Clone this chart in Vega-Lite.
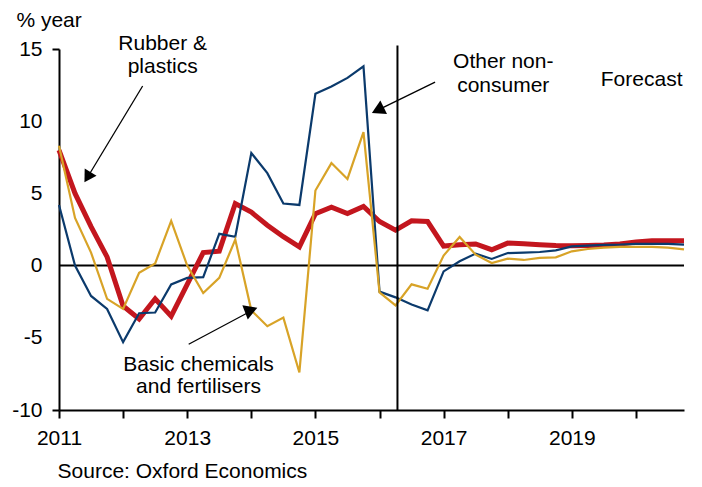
{
  "$schema": "https://vega.github.io/schema/vega-lite/v6.json",
  "width": 625,
  "height": 361,
  "autosize": {"type": "none"},
  "padding": {"left": 59, "top": 49, "right": 18, "bottom": 77},
  "background": "white",
  "config": {
    "view": {"stroke": null},
    "font": "Liberation Sans",
    "text": {"font": "Liberation Sans", "fontSize": 21, "color": "black"}
  },
  "data": {"values": [{"one": 1}]},
  "datasets": {
    "rubber": [
      {"t": 2011.0, "v": 8.0}, {"t": 2011.25, "v": 5.0}, {"t": 2011.5, "v": 2.7}, {"t": 2011.75, "v": 0.6},
      {"t": 2012.0, "v": -2.8}, {"t": 2012.25, "v": -3.7}, {"t": 2012.5, "v": -2.3}, {"t": 2012.75, "v": -3.5},
      {"t": 2013.0, "v": -1.3}, {"t": 2013.25, "v": 0.9}, {"t": 2013.5, "v": 1.0}, {"t": 2013.75, "v": 4.3},
      {"t": 2014.0, "v": 3.7}, {"t": 2014.25, "v": 2.8}, {"t": 2014.5, "v": 2.0}, {"t": 2014.75, "v": 1.3},
      {"t": 2015.0, "v": 3.6}, {"t": 2015.25, "v": 4.05}, {"t": 2015.5, "v": 3.6}, {"t": 2015.75, "v": 4.1},
      {"t": 2016.0, "v": 3.05}, {"t": 2016.25, "v": 2.45}, {"t": 2016.5, "v": 3.1}, {"t": 2016.75, "v": 3.05},
      {"t": 2017.0, "v": 1.35}, {"t": 2017.25, "v": 1.45}, {"t": 2017.5, "v": 1.5}, {"t": 2017.75, "v": 1.1},
      {"t": 2018.0, "v": 1.56}, {"t": 2018.25, "v": 1.52}, {"t": 2018.5, "v": 1.45}, {"t": 2018.75, "v": 1.4},
      {"t": 2019.0, "v": 1.38}, {"t": 2019.25, "v": 1.4}, {"t": 2019.5, "v": 1.42}, {"t": 2019.75, "v": 1.5},
      {"t": 2020.0, "v": 1.63}, {"t": 2020.25, "v": 1.72}, {"t": 2020.5, "v": 1.72}, {"t": 2020.75, "v": 1.72}
    ],
    "other": [
      {"t": 2011.0, "v": 4.2}, {"t": 2011.25, "v": 0.0}, {"t": 2011.5, "v": -2.1}, {"t": 2011.75, "v": -3.0},
      {"t": 2012.0, "v": -5.3}, {"t": 2012.25, "v": -3.3}, {"t": 2012.5, "v": -3.25}, {"t": 2012.75, "v": -1.3},
      {"t": 2013.0, "v": -0.85}, {"t": 2013.25, "v": -0.8}, {"t": 2013.5, "v": 2.2}, {"t": 2013.75, "v": 2.0},
      {"t": 2014.0, "v": 7.8}, {"t": 2014.25, "v": 6.4}, {"t": 2014.5, "v": 4.3}, {"t": 2014.75, "v": 4.2},
      {"t": 2015.0, "v": 11.9}, {"t": 2015.25, "v": 12.4}, {"t": 2015.5, "v": 13.0}, {"t": 2015.75, "v": 13.8},
      {"t": 2016.0, "v": -1.8}, {"t": 2016.25, "v": -2.2}, {"t": 2016.5, "v": -2.7}, {"t": 2016.75, "v": -3.1},
      {"t": 2017.0, "v": -0.4}, {"t": 2017.25, "v": 0.3}, {"t": 2017.5, "v": 0.83}, {"t": 2017.75, "v": 0.46},
      {"t": 2018.0, "v": 0.87}, {"t": 2018.25, "v": 0.9}, {"t": 2018.5, "v": 0.94}, {"t": 2018.75, "v": 1.06},
      {"t": 2019.0, "v": 1.33}, {"t": 2019.25, "v": 1.38}, {"t": 2019.5, "v": 1.43}, {"t": 2019.75, "v": 1.45},
      {"t": 2020.0, "v": 1.5}, {"t": 2020.25, "v": 1.5}, {"t": 2020.5, "v": 1.5}, {"t": 2020.75, "v": 1.45}
    ],
    "basic": [
      {"t": 2011.0, "v": 8.3}, {"t": 2011.25, "v": 3.3}, {"t": 2011.5, "v": 0.9}, {"t": 2011.75, "v": -2.3},
      {"t": 2012.0, "v": -3.0}, {"t": 2012.25, "v": -0.5}, {"t": 2012.5, "v": 0.15}, {"t": 2012.75, "v": 3.1},
      {"t": 2013.0, "v": 0.0}, {"t": 2013.25, "v": -1.9}, {"t": 2013.5, "v": -0.85}, {"t": 2013.75, "v": 1.8},
      {"t": 2014.0, "v": -3.1}, {"t": 2014.25, "v": -4.2}, {"t": 2014.5, "v": -3.6}, {"t": 2014.75, "v": -7.4},
      {"t": 2015.0, "v": 5.2}, {"t": 2015.25, "v": 7.1}, {"t": 2015.5, "v": 6.0}, {"t": 2015.75, "v": 9.25},
      {"t": 2016.0, "v": -1.85}, {"t": 2016.25, "v": -2.75}, {"t": 2016.5, "v": -1.3}, {"t": 2016.75, "v": -1.6},
      {"t": 2017.0, "v": 0.7}, {"t": 2017.25, "v": 1.98}, {"t": 2017.5, "v": 0.76}, {"t": 2017.75, "v": 0.18},
      {"t": 2018.0, "v": 0.48}, {"t": 2018.25, "v": 0.39}, {"t": 2018.5, "v": 0.53}, {"t": 2018.75, "v": 0.57},
      {"t": 2019.0, "v": 0.99}, {"t": 2019.25, "v": 1.15}, {"t": 2019.5, "v": 1.25}, {"t": 2019.75, "v": 1.3},
      {"t": 2020.0, "v": 1.3}, {"t": 2020.25, "v": 1.3}, {"t": 2020.5, "v": 1.25}, {"t": 2020.75, "v": 1.13}
    ]
  },
  "layer": [
    {
      "mark": {"type": "rule", "color": "black", "strokeWidth": 2},
      "encoding": {
        "y": {"datum": 0, "type": "quantitative",
          "scale": {"domain": [-10, 15], "nice": false, "zero": false},
          "axis": {
            "values": [-10, -5, 0, 5, 10, 15], "title": null, "grid": false,
            "domainColor": "black", "domainWidth": 2,
            "tickColor": "black", "tickWidth": 2, "tickSize": 7,
            "tickOpacity": {"expr": "datum.value === 15 || datum.value === -10 ? 1 : 0"},
            "labelExpr": "toString(datum.value)",
            "labelFont": "Liberation Sans", "labelFontSize": 21, "labelColor": "black", "labelPadding": 10
          }
        }
      }
    },
    {
      "data": {"name": "rubber"},
      "mark": {"type": "line", "color": "#C3161E", "strokeWidth": 5},
      "encoding": {
        "x": {"field": "t", "type": "quantitative",
          "scale": {"domain": [2011, 2020.75], "nice": false, "zero": false},
          "axis": {
            "values": [2011, 2012, 2013, 2014, 2015, 2016, 2017, 2018, 2019, 2020],
            "format": "d", "labelExpr": "datum.value % 2 == 1 ? datum.label : ''",
            "title": null, "grid": false,
            "domainColor": "black", "domainWidth": 2,
            "tickColor": "black", "tickWidth": 2, "tickSize": 8,
            "labelFont": "Liberation Sans", "labelFontSize": 21, "labelColor": "black", "labelPadding": 9,
            "labelFlush": false, "labelOverlap": false
          }
        },
        "y": {"field": "v", "type": "quantitative"}
      }
    },
    {
      "data": {"name": "other"},
      "mark": {"type": "line", "color": "#0B3A6C", "strokeWidth": 2.2},
      "encoding": {
        "x": {"field": "t", "type": "quantitative"},
        "y": {"field": "v", "type": "quantitative"}
      }
    },
    {
      "data": {"name": "basic"},
      "mark": {"type": "line", "color": "#D8A327", "strokeWidth": 2.2},
      "encoding": {
        "x": {"field": "t", "type": "quantitative"},
        "y": {"field": "v", "type": "quantitative"}
      }
    },
    {
      "mark": {"type": "rule", "color": "black", "strokeWidth": 2},
      "encoding": {
        "x": {"datum": 2016.28, "type": "quantitative"},
        "y": {"datum": 15.25, "type": "quantitative"},
        "y2": {"datum": -10}
      }
    },
    {
      "mark": {"type": "rule", "color": "black", "strokeWidth": 1.3},
      "encoding": {
        "x": {"datum": 2012.305, "type": "quantitative"},
        "y": {"datum": 12.44, "type": "quantitative"},
        "x2": {"datum": 2011.445},
        "y2": {"datum": 6.12}
      }
    },
    {
      "mark": {"type": "point", "shape": "triangle-up", "filled": true, "color": "black", "opacity": 1, "size": 190, "angle": 211},
      "encoding": {
        "x": {"datum": 2011.445, "type": "quantitative"},
        "y": {"datum": 6.12, "type": "quantitative"}
      }
    },
    {
      "mark": {"type": "rule", "color": "black", "strokeWidth": 1.3},
      "encoding": {
        "x": {"datum": 2016.867, "type": "quantitative"},
        "y": {"datum": 12.71, "type": "quantitative"},
        "x2": {"datum": 2015.973},
        "y2": {"datum": 10.77}
      }
    },
    {
      "mark": {"type": "point", "shape": "triangle-up", "filled": true, "color": "black", "opacity": 1, "size": 230, "angle": 244},
      "encoding": {
        "x": {"datum": 2015.973, "type": "quantitative"},
        "y": {"datum": 10.77, "type": "quantitative"}
      }
    },
    {
      "mark": {"type": "rule", "color": "black", "strokeWidth": 1.3},
      "encoding": {
        "x": {"datum": 2013.023, "type": "quantitative"},
        "y": {"datum": -5.45, "type": "quantitative"},
        "x2": {"datum": 2013.93},
        "y2": {"datum": -3.3}
      }
    },
    {
      "mark": {"type": "point", "shape": "triangle-up", "filled": true, "color": "black", "opacity": 1, "size": 230, "angle": 189},
      "encoding": {
        "x": {"datum": 2013.961, "type": "quantitative"},
        "y": {"datum": -3.28, "type": "quantitative"}
      }
    },
    {
      "mark": {"type": "text", "text": "Rubber &", "align": "center", "baseline": "alphabetic"},
      "encoding": {"x": {"datum": 2012.617, "type": "quantitative"}, "y": {"datum": 14.93, "type": "quantitative"}}
    },
    {
      "mark": {"type": "text", "text": "plastics", "align": "center", "baseline": "alphabetic"},
      "encoding": {"x": {"datum": 2012.617, "type": "quantitative"}, "y": {"datum": 13.34, "type": "quantitative"}}
    },
    {
      "mark": {"type": "text", "text": "Other non-", "align": "center", "baseline": "alphabetic"},
      "encoding": {"x": {"datum": 2017.93, "type": "quantitative"}, "y": {"datum": 13.66, "type": "quantitative"}}
    },
    {
      "mark": {"type": "text", "text": "consumer", "align": "center", "baseline": "alphabetic"},
      "encoding": {"x": {"datum": 2017.93, "type": "quantitative"}, "y": {"datum": 12.04, "type": "quantitative"}}
    },
    {
      "mark": {"type": "text", "text": "Forecast", "align": "center", "baseline": "alphabetic"},
      "encoding": {"x": {"datum": 2020.089, "type": "quantitative"}, "y": {"datum": 12.44, "type": "quantitative"}}
    },
    {
      "mark": {"type": "text", "text": "Basic chemicals", "align": "center", "baseline": "alphabetic"},
      "encoding": {"x": {"datum": 2013.177, "type": "quantitative"}, "y": {"datum": -7.28, "type": "quantitative"}}
    },
    {
      "mark": {"type": "text", "text": "and fertilisers", "align": "center", "baseline": "alphabetic"},
      "encoding": {"x": {"datum": 2013.177, "type": "quantitative"}, "y": {"datum": -8.84, "type": "quantitative"}}
    },
    {
      "mark": {"type": "text", "text": "% year", "align": "left", "baseline": "alphabetic"},
      "encoding": {"x": {"datum": 2010.336, "type": "quantitative"}, "y": {"datum": 16.54, "type": "quantitative"}}
    },
    {
      "mark": {"type": "text", "text": "Source: Oxford Economics", "align": "left", "baseline": "alphabetic"},
      "encoding": {"x": {"datum": 2010.977, "type": "quantitative"}, "y": {"datum": -14.71, "type": "quantitative"}}
    }
  ]
}
